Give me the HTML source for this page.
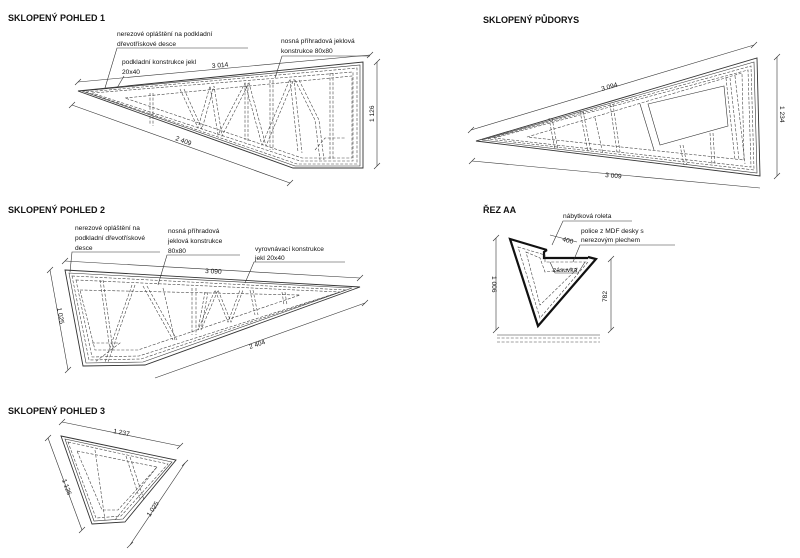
<!DOCTYPE html>
<html><head><meta charset="utf-8"><style>
html,body{margin:0;padding:0;background:#fff}
svg{display:block}
text{font-family:"Liberation Sans",Arial,sans-serif;fill:#111}
.h{font-size:9px;font-weight:bold}
.t{font-size:6.6px}
.o{fill:none;stroke:#333;stroke-width:0.9}
.d{fill:none;stroke:#444;stroke-width:0.6;stroke-dasharray:3,1.6}
.l{fill:none;stroke:#333;stroke-width:0.6}
.k{fill:none;stroke:#111;stroke-width:2.2}
</style></head><body>
<svg width="800" height="558" viewBox="0 0 800 558" xmlns="http://www.w3.org/2000/svg">
<!-- headings -->
<text class="h" x="8" y="21">SKLOPENÝ POHLED 1</text>
<text class="h" x="483" y="23">SKLOPENÝ PŮDORYS</text>
<text class="h" x="8" y="213">SKLOPENÝ POHLED 2</text>
<text class="h" x="483" y="213">ŘEZ AA</text>
<text class="h" x="8" y="414">SKLOPENÝ POHLED 3</text>

<!-- ============ VIEW 1 ============ -->
<polygon class="o" points="78,91 363,62 363,168 293,168"/>
<polygon class="l" points="82,91 360,65 360,166 295,166"/>
<polygon class="d" points="86,92 357,68 357,164 297,164"/>
<polygon class="d" points="92,93 353,72 353,161 300,161"/>
<polygon class="d" points="125,98 352,76 352,158 302,158"/>
<!-- truss -->
<polyline class="d" points="150,93 150,125"/><polyline class="d" points="153,93 153,126"/>
<polyline class="d" points="180,89 198,128 210,86 218,135 245,83 262,145 290,79 298,152"/>
<polyline class="d" points="184,89 202,129 214,86 222,136 249,83 266,146 294,79 302,153"/>
<polyline class="d" points="245,83 245,140"/><polyline class="d" points="248,83 248,141"/>
<polyline class="d" points="270,80 270,150"/><polyline class="d" points="273,80 273,150"/>
<polyline class="d" points="330,73 330,160"/><polyline class="d" points="333,73 333,160"/>
<polyline class="d" points="295,80 315,120 320,160"/>
<polyline class="d" points="299,80 319,120 324,160"/>
<polyline class="d" points="315,150 325,138 345,138"/>
<!-- dims -->
<line class="l" x1="78" y1="82" x2="370" y2="55"/>
<line class="l" x1="75" y1="85" x2="81" y2="79"/><line class="l" x1="367" y1="58" x2="373" y2="52"/>
<text class="t" x="212" y="68" transform="rotate(-5 212 68)">3 014</text>
<line class="l" x1="72" y1="105" x2="290" y2="183"/>
<line class="l" x1="69" y1="108" x2="75" y2="102"/><line class="l" x1="287" y1="186" x2="293" y2="180"/>
<text class="t" x="175" y="140" transform="rotate(20 175 140)">2 409</text>
<line class="l" x1="377" y1="62" x2="377" y2="166"/>
<line class="l" x1="374" y1="65" x2="380" y2="59"/><line class="l" x1="374" y1="169" x2="380" y2="163"/>
<text class="t" x="374" y="122" transform="rotate(-90 374 122)">1 126</text>
<!-- labels -->
<text class="t" x="117" y="36">nerezové opláštění na podkladní</text>
<text class="t" x="117" y="46">dřevotřískové desce</text>
<polyline class="l" points="248,48 117,48 105,88"/>
<text class="t" x="281" y="43">nosná příhradová jeklová</text>
<text class="t" x="281" y="53">konstrukce 80x80</text>
<polyline class="l" points="370,56 282,56 275,78"/>
<text class="t" x="122" y="64">podkladní konstrukce jekl</text>
<text class="t" x="122" y="74">20x40</text>
<line class="l" x1="124" y1="76" x2="117" y2="88"/>

<!-- ============ PLAN ============ -->
<polygon class="o" points="476,141 757,58 760,176"/>
<polygon class="l" points="482,140 754,62 757,173"/>
<polygon class="d" points="488,139 751,66 754,170"/>
<polygon class="d" points="494,138 748,70 751,167"/>
<polygon class="d" points="527,137 742,73 744,160"/>
<polygon class="l" points="648,104 724,86 728,126 660,145"/>
<polyline class="l" points="640,104 654,150"/>
<polyline class="d" points="549,118 555,150"/><polyline class="d" points="552,118 558,150"/>
<polyline class="d" points="580,111 588,152"/><polyline class="d" points="583,111 591,152"/>
<polyline class="d" points="595,118 603,154"/><polyline class="d" points="610,104 617,152"/>
<polyline class="d" points="613,104 620,152"/>
<polyline class="d" points="680,145 684,165"/><polyline class="d" points="683,145 687,165"/>
<polyline class="d" points="710,133 712,165"/><polyline class="d" points="713,133 715,165"/>
<polyline class="d" points="726,78 735,160"/><polyline class="d" points="730,78 739,160"/>
<polyline class="d" points="735,76 745,164"/>
<line class="l" x1="471" y1="130" x2="754" y2="45"/>
<line class="l" x1="468" y1="133" x2="474" y2="127"/><line class="l" x1="751" y1="48" x2="757" y2="42"/>
<text class="t" x="602" y="91" transform="rotate(-16 602 91)">3 094</text>
<line class="l" x1="472" y1="161" x2="760" y2="188"/>
<line class="l" x1="469" y1="164" x2="475" y2="158"/>
<text class="t" x="605" y="177" transform="rotate(5 605 177)">3 009</text>
<line class="l" x1="777" y1="57" x2="777" y2="176"/>
<line class="l" x1="774" y1="60" x2="780" y2="54"/><line class="l" x1="774" y1="179" x2="780" y2="173"/>
<text class="t" x="780" y="106" transform="rotate(90 780 106)">1 234</text>

<!-- ============ VIEW 2 ============ -->
<polygon class="o" points="65,270 360,287 145,365 83,366"/>
<polygon class="l" points="69,273 352,288 143,362 86,363"/>
<polygon class="d" points="72,276 346,290 141,359 89,360"/>
<polygon class="d" points="76,280 340,292 139,356 92,357"/>
<polygon class="d" points="80,290 300,295 138,350 95,350"/>
<polyline class="d" points="100,280 110,350"/><polyline class="d" points="103,280 113,350"/>
<polyline class="d" points="132,285 105,362"/><polyline class="d" points="135,285 108,362"/>
<polyline class="d" points="143,286 173,340"/><polyline class="d" points="147,286 177,340"/>
<polyline class="d" points="163,288 175,340"/><polyline class="d" points="192,288 192,335"/>
<polyline class="d" points="196,288 196,335"/>
<polyline class="d" points="205,292 198,330 215,290 228,322 240,290"/>
<polyline class="d" points="208,292 201,330 218,290 231,322 243,290"/>
<polyline class="d" points="250,290 255,315"/><polyline class="d" points="253,290 258,315"/>
<polyline class="d" points="282,292 284,305"/><polyline class="d" points="285,292 287,305"/>
<polyline class="d" points="92,343 120,343 95,362"/>
<line class="l" x1="65" y1="261" x2="360" y2="278"/>
<line class="l" x1="62" y1="264" x2="68" y2="258"/><line class="l" x1="357" y1="281" x2="363" y2="275"/>
<text class="t" x="205" y="273" transform="rotate(3 205 273)">3 090</text>
<line class="l" x1="50" y1="270" x2="68" y2="370"/>
<line class="l" x1="47" y1="273" x2="53" y2="267"/><line class="l" x1="65" y1="373" x2="71" y2="367"/>
<text class="t" x="57" y="308" transform="rotate(80 57 308)">1 025</text>
<line class="l" x1="155" y1="378" x2="365" y2="303"/>
<line class="l" x1="362" y1="306" x2="368" y2="300"/>
<text class="t" x="250" y="349" transform="rotate(-19 250 349)">2 404</text>
<text class="t" x="75" y="230">nerezové opláštění na</text>
<text class="t" x="75" y="240">podkladní dřevotřískové</text>
<text class="t" x="75" y="250">desce</text>
<polyline class="l" points="160,252 72,252 70,272"/>
<text class="t" x="168" y="233">nosná příhradová</text>
<text class="t" x="168" y="243">jeklová konstrukce</text>
<text class="t" x="168" y="253">80x80</text>
<polyline class="l" points="240,255 167,255 158,285"/>
<text class="t" x="255" y="251">vyrovnávací konstrukce</text>
<text class="t" x="255" y="260">jekl 20x40</text>
<polyline class="l" points="345,262 254,262 245,283"/>

<!-- ============ ŘEZ AA ============ -->
<polyline class="k" points="547,250 510,239 538,326 596,259 588,257"/>
<polyline class="k" points="547,250 544,252 544,258 588,258"/>
<polygon class="d" points="518,247 545,255 545,262 588,262 540,318"/>
<polygon class="d" points="526,252 540,258 545,272 578,268 540,305"/>
<polyline class="l" points="550,262 555,273 578,273 585,262"/>
<text class="t" x="553" y="272">zásuvka</text>
<text class="t" x="563" y="218">nábytková roleta</text>
<polyline class="l" points="632,221 563,221 552,245"/>
<text class="t" x="581" y="233">police z MDF desky s</text>
<text class="t" x="581" y="242">nerezovým plechem</text>
<polyline class="l" points="675,245 580,245 573,262"/>
<line class="l" x1="550" y1="235" x2="577" y2="242"/>
<text class="t" x="562" y="241" transform="rotate(15 562 241)">400</text>
<line class="l" x1="496" y1="238" x2="496" y2="330"/>
<line class="l" x1="493" y1="241" x2="499" y2="235"/><line class="l" x1="493" y1="333" x2="499" y2="327"/>
<text class="t" x="492" y="276" transform="rotate(90 492 276)">1 006</text>
<line class="l" x1="611" y1="259" x2="611" y2="330"/>
<line class="l" x1="608" y1="262" x2="614" y2="256"/><line class="l" x1="608" y1="333" x2="614" y2="327"/>
<text class="t" x="607" y="302" transform="rotate(-90 607 302)">782</text>
<line class="l" x1="497" y1="335" x2="600" y2="335"/>
<line class="d" x1="497" y1="338" x2="600" y2="338"/>
<line class="d" x1="497" y1="342" x2="600" y2="342"/>

<!-- ============ VIEW 3 ============ -->
<polygon class="o" points="61,436 176,460 125,522 92,524"/>
<polygon class="l" points="65,439 172,462 123,519 94,521"/>
<polygon class="d" points="68,442 168,464 121,516 96,518"/>
<polygon class="d" points="77,451 157,467 118,510 102,510"/>
<polyline class="d" points="95,450 105,520"/><polyline class="d" points="126,456 140,500"/>
<polyline class="d" points="130,457 144,500"/><polyline class="d" points="157,467 115,520"/>
<line class="l" x1="62" y1="422" x2="180" y2="446"/>
<line class="l" x1="59" y1="425" x2="65" y2="419"/><line class="l" x1="177" y1="449" x2="183" y2="443"/>
<text class="t" x="113" y="433" transform="rotate(11 113 433)">1 237</text>
<line class="l" x1="48" y1="438" x2="82" y2="530"/>
<line class="l" x1="45" y1="441" x2="51" y2="435"/><line class="l" x1="79" y1="533" x2="85" y2="527"/>
<text class="t" x="62" y="480" transform="rotate(70 62 480)">1 126</text>
<line class="l" x1="185" y1="463" x2="130" y2="545"/>
<line class="l" x1="182" y1="466" x2="188" y2="460"/><line class="l" x1="127" y1="548" x2="133" y2="542"/>
<text class="t" x="150" y="517" transform="rotate(-57 150 517)">1 025</text>
</svg>
</body></html>
